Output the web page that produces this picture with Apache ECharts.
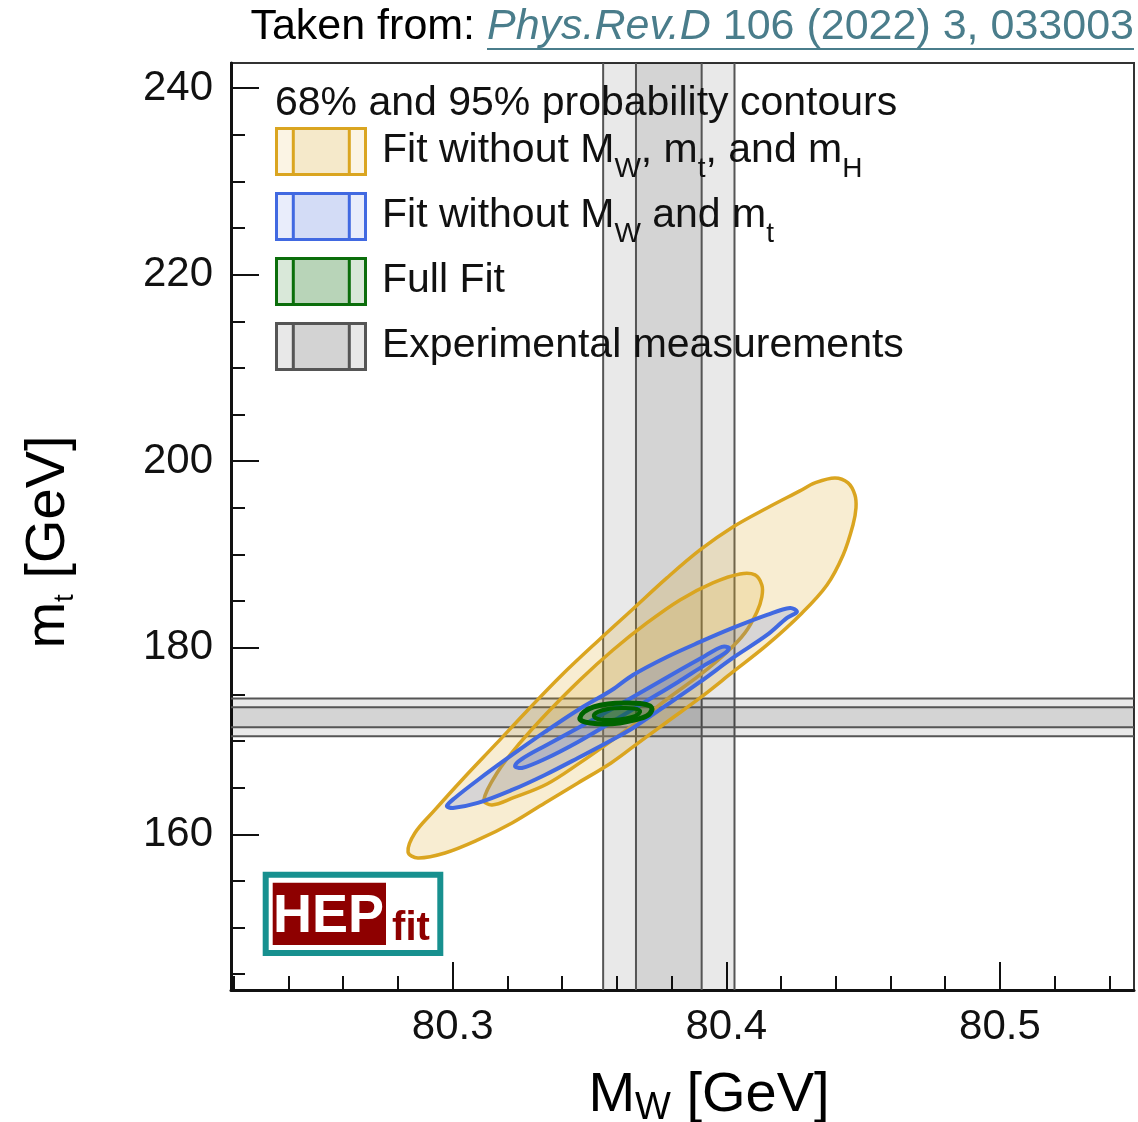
<!DOCTYPE html>
<html>
<head>
<meta charset="utf-8">
<script src="https://cdn.jsdelivr.net/npm/echarts@6/dist/echarts.min.js"></script>
<style>
  html, body { margin: 0; padding: 0; background: #fff; }
  #chart { width: 1138px; height: 1122px; }
</style>
</head>
<body>
<div id="chart"></div>
<script>
const FAMILY = '"Liberation Sans", Arial, Helvetica, sans-serif';

// axis ranges and ticks
const xRange = [80.219, 80.549];
const yRange = [143.3, 242.7];
const xMajorTicks = [80.3, 80.4, 80.5];
const xTickLabels = ['80.3', '80.4', '80.5'];
const xMinorTicks = [80.22, 80.24, 80.26, 80.28, 80.32, 80.34, 80.36, 80.38, 80.42, 80.44, 80.46, 80.48, 80.52, 80.54];
const yMajorTicks = [160, 180, 200, 220, 240];
const yTickLabels = ['160', '180', '200', '220', '240'];
const yMinorTicks = [145, 150, 155, 165, 170, 175, 185, 190, 195, 205, 210, 215, 225, 230, 235];

// experimental measurements: [2σ low, 1σ low, 1σ high, 2σ high]
const mwBand = [80.355, 80.367, 80.391, 80.403];
const mtBand = [170.52, 171.48, 173.62, 174.55];

// probability contours, [M_W, m_t] boundary points
const fitNoMwMtMh95 = [
  [80.2837,158.10],[80.2862,160.14],[80.2935,162.61],[80.3034,165.82],[80.3155,169.58],[80.3275,173.33],
  [80.3399,177.08],[80.3531,180.73],[80.3659,184.16],[80.3783,187.49],[80.3904,190.49],[80.4024,192.95],
  [80.4149,194.99],[80.4269,196.82],[80.4324,197.67],[80.4397,198.21],[80.4445,197.67],[80.4470,196.39],
  [80.4474,194.99],[80.4463,193.17],[80.4427,189.95],[80.4368,186.73],[80.4277,183.73],[80.4149,180.30],
  [80.4024,177.40],[80.3904,174.62],[80.3783,172.04],[80.3659,169.36],[80.3579,167.65],[80.3458,165.50],
  [80.3337,163.36],[80.3217,161.21],[80.3092,159.39],[80.2972,157.99],[80.2873,157.46]
];
const fitNoMwMtMh68 = [
  [80.3114,163.68],[80.3162,166.57],[80.3246,169.79],[80.3345,173.01],[80.3465,176.55],[80.3586,179.76],
  [80.3710,182.66],[80.3831,185.13],[80.3951,186.95],[80.4050,187.91],[80.4105,187.81],[80.4130,186.73],
  [80.4130,185.45],[80.4112,183.84],[80.4068,181.59],[80.4003,179.55],[80.3904,177.08],[80.3794,174.72],
  [80.3685,172.26],[80.3575,169.90],[80.3465,167.65],[80.3345,165.39],[80.3220,163.89],[80.3144,163.14]
];
const fitNoMwMt95 = [
  [80.2979,163.03],[80.3008,163.89],[80.3092,165.82],[80.3217,168.50],[80.3337,170.97],[80.3458,173.33],
  [80.3582,175.47],[80.3659,177.08],[80.3783,179.01],[80.3904,180.62],[80.4024,182.12],[80.4149,183.52],
  [80.4233,184.27],[80.4258,183.84],[80.4222,183.20],[80.4149,181.37],[80.4024,178.91],[80.3904,176.33],
  [80.3783,173.87],[80.3659,171.40],[80.3582,170.11],[80.3458,168.18],[80.3337,166.36],[80.3217,164.75],
  [80.3092,163.36],[80.3001,162.82]
];
const fitNoMwMt68 = [
  [80.3228,167.32],[80.3253,168.07],[80.3337,169.47],[80.3458,171.40],[80.3582,173.44],[80.3703,175.47],
  [80.3824,177.51],[80.3922,179.12],[80.3984,180.09],[80.4010,179.98],[80.3996,179.44],[80.3922,178.16],
  [80.3824,176.33],[80.3703,174.19],[80.3582,172.04],[80.3458,169.90],[80.3337,168.07],[80.3253,167.11]
];
const fullFit95 = [
  [80.3465,172.47],[80.3480,173.12],[80.3516,173.65],[80.3568,173.97],[80.3626,174.08],[80.3685,174.03],
  [80.3721,173.76],[80.3728,173.33],[80.3710,172.69],[80.3666,172.26],[80.3611,171.94],[80.3553,171.83],
  [80.3502,171.94],[80.3473,172.15]
];
const fullFit68 = [
  [80.3516,172.69],[80.3531,173.12],[80.3568,173.44],[80.3619,173.54],[80.3663,173.49],[80.3685,173.22],
  [80.3674,172.79],[80.3633,172.42],[80.3582,172.26],[80.3538,172.31]
];

const YELLOW = '#daa520', BLUE = '#4169e1', GREEN = '#006400', GREY = '#555555';
const TEAL = '#4a7d8b';

function contourSeries(name, pts, stroke, fill, width, z) {
  return {
    type: 'custom', name: name, z: z, silent: true,
    coordinateSystem: 'cartesian2d',
    data: pts, encode: { x: 0, y: 1 },
    renderItem: function (params, api) {
      if (params.dataIndex !== 0) return null;
      const points = pts.map(p => api.coord(p));
      return {
        type: 'polygon',
        shape: { points: points, smooth: 0.35 },
        style: { fill: fill, stroke: stroke, lineWidth: width, lineJoin: 'round' }
      };
    }
  };
}

// measurement bands: shaded 1σ/2σ strips with edge lines
function bandSeries(name, edges, vertical) {
  return {
    type: 'custom', name: name, z: 1, silent: true,
    coordinateSystem: 'cartesian2d',
    data: vertical ? edges.map(v => [v, yRange[0]]) : edges.map(v => [xRange[0], v]),
    encode: { x: 0, y: 1 },
    renderItem: function (params, api) {
      if (params.dataIndex !== 0) return null;
      const cs = params.coordSys;
      const shade = 'rgba(0,0,0,0.085)';
      const kids = [];
      if (vertical) {
        const xs = edges.map(v => api.coord([v, yRange[0]])[0]);
        kids.push({ type: 'rect', shape: { x: xs[0], y: cs.y, width: xs[3] - xs[0], height: cs.height }, style: { fill: shade } });
        kids.push({ type: 'rect', shape: { x: xs[1], y: cs.y, width: xs[2] - xs[1], height: cs.height }, style: { fill: shade } });
        xs.forEach(x => kids.push({ type: 'line', shape: { x1: x, y1: cs.y, x2: x, y2: cs.y + cs.height }, style: { stroke: GREY, lineWidth: 2 } }));
      } else {
        const ys = edges.map(v => api.coord([xRange[0], v])[1]);
        kids.push({ type: 'rect', shape: { x: cs.x, y: ys[3], width: cs.width, height: ys[0] - ys[3] }, style: { fill: shade } });
        kids.push({ type: 'rect', shape: { x: cs.x, y: ys[2], width: cs.width, height: ys[1] - ys[2] }, style: { fill: shade } });
        ys.forEach(y => kids.push({ type: 'line', shape: { x1: cs.x, y1: y, x2: cs.x + cs.width, y2: y }, style: { stroke: GREY, lineWidth: 2 } }));
      }
      return { type: 'group', children: kids };
    }
  };
}

// legend
const legendRows = [
  { text: '{n|Fit without M}{s|W}{n|, m}{s|t}{n|, and m}{s|H}', stroke: YELLOW, outer: '#fbf4e4', inner: '#f5e9ca' },
  { text: '{n|Fit without M}{s|W}{n| and m}{s|t}', stroke: BLUE, outer: '#e9edfb', inner: '#d3dcf6' },
  { text: '{n|Full Fit}', stroke: '#0b6e0b', outer: '#d9e8d9', inner: '#b8d4b8' },
  { text: '{n|Experimental measurements}', stroke: GREY, outer: '#e8e8e8', inner: '#d3d3d3' }
];
const legendRich = {
  n: { fontSize: 41, fontFamily: FAMILY, fill: '#111', lineHeight: 48, verticalAlign: 'top' },
  s: { fontSize: 28, fontFamily: FAMILY, fill: '#111', lineHeight: 28, verticalAlign: 'top', padding: [25, 0, 0, 0] }
};
const graphics = [];
graphics.push({
  type: 'text', z: 100, silent: true,
  style: { text: '68% and 95% probability contours', x: 275, y: 104, font: '41px ' + FAMILY, fill: '#111',
           align: 'left', verticalAlign: 'middle', textAlign: 'left', textVerticalAlign: 'middle' }
});
legendRows.forEach((r, i) => {
  const top = 128.5 + i * 65;
  graphics.push({ type: 'rect', z: 100, silent: true, shape: { x: 276.5, y: top, width: 89, height: 46 },
                  style: { fill: r.outer, stroke: r.stroke, lineWidth: 3 } });
  graphics.push({ type: 'rect', z: 100, silent: true, shape: { x: 293.3, y: top, width: 56, height: 46 },
                  style: { fill: r.inner, stroke: r.stroke, lineWidth: 3 } });
  graphics.push({ type: 'text', z: 100, silent: true,
                  style: { text: r.text, x: 382, y: top + 2, rich: legendRich, fill: '#111',
                           align: 'left', verticalAlign: 'top', textAlign: 'left', textVerticalAlign: 'top' } });
});

// HEPfit logo
graphics.push({ type: 'rect', z: 100, silent: true, shape: { x: 265.7, y: 874.7, width: 174.6, height: 78.3 },
                style: { fill: '#fff', stroke: '#17908f', lineWidth: 6 } });
graphics.push({ type: 'rect', z: 100, silent: true, shape: { x: 272.7, y: 882.7, width: 113.3, height: 62.3 },
                style: { fill: '#8e0000' } });
graphics.push({ type: 'text', z: 101, silent: true,
                style: { text: 'HEP', x: 328.5, y: 917, font: 'bold 54px ' + FAMILY, fill: '#fff',
                         align: 'center', verticalAlign: 'middle', textAlign: 'center', textVerticalAlign: 'middle' } });
graphics.push({ type: 'text', z: 101, silent: true,
                style: { text: 'fit', x: 411, y: 929, font: 'bold 40px ' + FAMILY, fill: '#8e0000',
                         align: 'center', verticalAlign: 'middle', textAlign: 'center', textVerticalAlign: 'middle' } });

// source line, with the reference underlined
const titleFont = '43px ' + FAMILY;
const titleItalic = 'italic 43px ' + FAMILY;
const refJournal = 'Phys.Rev.D';
const refRest = ' 106 (2022) 3, 033003';
const mctx = document.createElement('canvas').getContext('2d');
function textWidth(str, font) { mctx.font = font; return mctx.measureText(str).width; }
const refWidth = textWidth(refJournal, titleItalic) + textWidth(refRest, titleFont);
graphics.push({ type: 'text', z: 100, silent: true,
                style: { text: '{a|Taken from: }{b|' + refJournal + '}{c|' + refRest + '}', x: 1134, y: 27,
                         align: 'right', verticalAlign: 'middle', textAlign: 'right', textVerticalAlign: 'middle',
                         rich: { a: { font: titleFont, fill: '#000' }, b: { font: titleItalic, fill: TEAL }, c: { font: titleFont, fill: TEAL } } } });
graphics.push({ type: 'line', z: 100, silent: true,
                shape: { x1: 1134 - refWidth, y1: 49, x2: 1134, y2: 49 }, style: { stroke: TEAL, lineWidth: 2 } });

const axisLabelStyle = { fontSize: 42, fontFamily: FAMILY, color: '#111' };

const option = {
  animation: false,
  backgroundColor: '#fff',
  grid: { left: 231, right: 4, top: 63, bottom: 132, show: true, borderColor: '#333', borderWidth: 2,
          backgroundColor: 'transparent', containLabel: false, outerBoundsMode: 'none' },
  xAxis: [
    {
      type: 'value', min: xRange[0], max: xRange[1], position: 'bottom',
      axisLine: { show: true, onZero: false, lineStyle: { color: '#111', width: 3 } },
      axisTick: { show: true, inside: true, length: 28, lineStyle: { color: '#111', width: 2 }, customValues: xMajorTicks },
      axisLabel: Object.assign({ show: true, margin: 16, customValues: xMajorTicks,
        formatter: v => xTickLabels[xMajorTicks.findIndex(t => Math.abs(t - v) < 1e-6)] || '' }, axisLabelStyle),
      splitLine: { show: false },
      name: '{n|M}{s|W}{n| [GeV]}', nameLocation: 'middle', nameGap: 78,
      nameTextStyle: {
        padding: [0, 0, 0, 53],
        rich: {
          n: { fontSize: 56, fontFamily: FAMILY, color: '#000', lineHeight: 64, verticalAlign: 'top' },
          s: { fontSize: 38, fontFamily: FAMILY, color: '#000', lineHeight: 38, verticalAlign: 'top', padding: [22, 0, 0, 0] }
        }
      }
    },
    {
      type: 'value', min: xRange[0], max: xRange[1], position: 'bottom',
      axisLine: { show: false },
      axisTick: { show: true, inside: true, length: 14, lineStyle: { color: '#111', width: 2 }, customValues: xMinorTicks },
      axisLabel: { show: false }, splitLine: { show: false }
    }
  ],
  yAxis: [
    {
      type: 'value', min: yRange[0], max: yRange[1], position: 'left',
      axisLine: { show: true, onZero: false, lineStyle: { color: '#111', width: 3 } },
      axisTick: { show: true, inside: true, length: 28, lineStyle: { color: '#111', width: 2 }, customValues: yMajorTicks },
      axisLabel: Object.assign({ show: true, margin: 18, padding: [14, 0, 0, 0], customValues: yMajorTicks,
        formatter: v => yTickLabels[yMajorTicks.findIndex(t => Math.abs(t - v) < 1e-6)] || '' }, axisLabelStyle),
      splitLine: { show: false },
      name: '{n|m}{s|t}{n| [GeV]}', nameLocation: 'middle', nameGap: 146, nameRotate: 90,
      nameTextStyle: {
        padding: [0, 31, 0, 0],
        rich: {
          n: { fontSize: 56, fontFamily: FAMILY, color: '#000', lineHeight: 64, verticalAlign: 'top' },
          s: { fontSize: 28, fontFamily: FAMILY, color: '#000', lineHeight: 28, verticalAlign: 'top', padding: [30, 0, 0, 0] }
        }
      }
    },
    {
      type: 'value', min: yRange[0], max: yRange[1], position: 'left',
      axisLine: { show: false },
      axisTick: { show: true, inside: true, length: 14, lineStyle: { color: '#111', width: 2 }, customValues: yMinorTicks },
      axisLabel: { show: false }, splitLine: { show: false }
    }
  ],
  series: [
    bandSeries('M_W measurement', mwBand, true),
    bandSeries('m_t measurement', mtBand, false),
    contourSeries('Fit without MW, mt, mH 95%', fitNoMwMtMh95, YELLOW, 'rgba(218,165,32,0.2)', 3.5, 2),
    contourSeries('Fit without MW, mt, mH 68%', fitNoMwMtMh68, YELLOW, 'rgba(218,165,32,0.18)', 3.5, 3),
    contourSeries('Fit without MW and mt 95%', fitNoMwMt95, BLUE, 'rgba(65,105,225,0.18)', 4, 4),
    contourSeries('Fit without MW and mt 68%', fitNoMwMt68, BLUE, 'rgba(65,105,225,0.2)', 4, 5),
    contourSeries('Full Fit 95%', fullFit95, GREEN, 'rgba(0,100,0,0.25)', 5, 6),
    contourSeries('Full Fit 68%', fullFit68, GREEN, 'rgba(0,100,0,0.3)', 4, 7)
  ],
  graphic: graphics
};

const chart = echarts.init(document.getElementById('chart'), null, { renderer: 'canvas' });
chart.setOption(option);
</script>
</body>
</html>
